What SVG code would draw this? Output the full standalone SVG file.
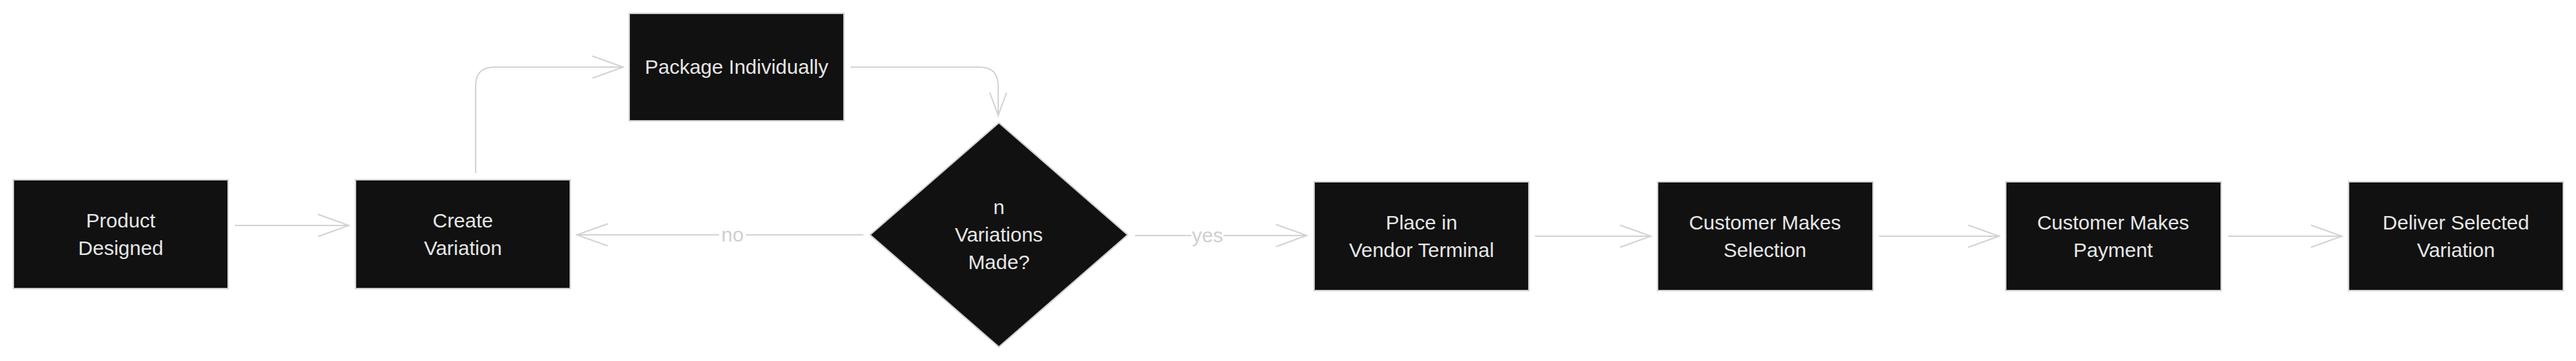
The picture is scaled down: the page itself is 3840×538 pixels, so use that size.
<svg xmlns="http://www.w3.org/2000/svg" width="3840" height="538" viewBox="0 0 3840 538">
<style>
.node{fill:#111111;stroke:#d0d0d0;stroke-width:2}
.lbl{font-family:"Liberation Sans",Arial,sans-serif;font-size:30px;fill:#e6e6e6;text-anchor:middle}
.edge{fill:none;stroke:#d3d3d3;stroke-width:2}
.elbl{font-family:"Liberation Sans",Arial,sans-serif;font-size:30px;fill:#cfcfcf;text-anchor:middle}
</style>
<rect x="0" y="0" width="3840" height="538" fill="#ffffff"/>
<g id="connectors">
  <path class="edge" d="M350,336 H520 M474,319.5 L520,336 L474,352.5"/>
  <path class="edge" d="M709,258 V128 Q709,100 737,100 H929 M883,83.5 L929,100 L883,116.5"/>
  <path class="edge" d="M1268,100 H1460 Q1488,100 1488,128 V172 M1475.5,138 L1488,172 L1500.5,138"/>
  <path class="edge" d="M1287,350 H860 M906,333.5 L860,350 L906,366.5"/>
  <rect x="1072" y="330" width="40" height="40" fill="#ffffff"/>
  <text class="elbl" x="1092" y="360">no</text>
  <path class="edge" d="M1692,351 H1948 M1902,334.5 L1948,351 L1902,367.5"/>
  <rect x="1776" y="330" width="48" height="42" fill="#ffffff"/>
  <text class="elbl" x="1800" y="361">yes</text>
  <path class="edge" d="M2288,352 H2461 M2415,335.5 L2461,352 L2415,368.5"/>
  <path class="edge" d="M2801,352 H2980 M2934,335.5 L2980,352 L2934,368.5"/>
  <path class="edge" d="M3321,352 H3491 M3445,335.5 L3491,352 L3445,368.5"/>
</g>
<g id="product-designed">
  <rect class="node" x="20" y="268" width="320" height="162"/>
  <text class="lbl" x="180" y="339">Product</text>
  <text class="lbl" x="180" y="380">Designed</text>
</g>
<g id="create-variation">
  <rect class="node" x="530" y="268" width="320" height="162"/>
  <text class="lbl" x="690" y="339">Create</text>
  <text class="lbl" x="690" y="380">Variation</text>
</g>
<g id="package-individually">
  <rect class="node" x="938" y="20" width="320" height="160"/>
  <text class="lbl" x="1098" y="110">Package Individually</text>
</g>
<g id="variations-made">
  <polygon class="node" points="1489,183 1681,350 1489,517 1297,350"/>
  <text class="lbl" x="1489" y="319">n</text>
  <text class="lbl" x="1489" y="360">Variations</text>
  <text class="lbl" x="1489" y="401">Made?</text>
</g>
<g id="place-in-vendor-terminal">
  <rect class="node" x="1959" y="271" width="320" height="162"/>
  <text class="lbl" x="2119" y="342">Place in</text>
  <text class="lbl" x="2119" y="383">Vendor Terminal</text>
</g>
<g id="customer-makes-selection">
  <rect class="node" x="2471" y="271" width="321" height="162"/>
  <text class="lbl" x="2631" y="342">Customer Makes</text>
  <text class="lbl" x="2631" y="383">Selection</text>
</g>
<g id="customer-makes-payment">
  <rect class="node" x="2990" y="271" width="321" height="162"/>
  <text class="lbl" x="3150" y="342">Customer Makes</text>
  <text class="lbl" x="3150" y="383">Payment</text>
</g>
<g id="deliver-selected-variation">
  <rect class="node" x="3501" y="271" width="320" height="162"/>
  <text class="lbl" x="3661" y="342">Deliver Selected</text>
  <text class="lbl" x="3661" y="383">Variation</text>
</g>
</svg>
